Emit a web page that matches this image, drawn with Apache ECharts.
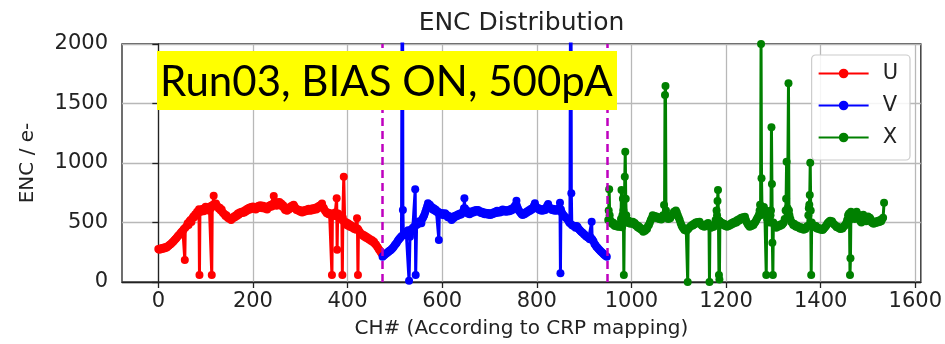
<!DOCTYPE html>
<html>
<head>
<meta charset="utf-8">
<script src="https://cdn.jsdelivr.net/npm/echarts@6/dist/echarts.min.js"></script>
<style>html,body{margin:0;padding:0;background:#fff;}#c{width:945px;height:344px;}</style>
</head>
<body>
<div id="c"></div>
<script>
// ---------- data (channel, ENC in e-) ----------
const uData = [
[0,278],[2,270],[4,282],[6,275],[8,285],[10,280],[12,290],[14,284],[16,295],[18,290],[20,300],[22,305],[24,312],[26,318],[28,325],[30,335],[32,340],[34,350],[36,360],[38,368],[40,378],[42,388],[44,395],[46,405],[48,415],[50,425],[52,432],[54,445],[56,185],[57,455],[60,470],[62,493],[64,480],[66,510],[68,520],[70,505],[72,535],[74,550],[76,545],[78,570],[80,560],[82,590],[84,580],[86,611],[87,59],[88,605],[90,590],[92,600],[94,615],[96,595],[98,620],[100,633],[102,610],[104,625],[106,600],[108,630],[110,615],[112,640],[113,59],[114,630],[116,650],[117,725],[118,655],[120,640],[122,660],[124,640],[126,630],[128,615],[130,625],[132,600],[134,610],[136,585],[138,575],[140,570],[142,555],[144,560],[146,545],[148,535],[150,540],[152,527],[154,520],[156,540],[158,535],[160,550],[162,545],[164,560],[166,555],[168,575],[170,565],[172,585],[174,577],[176,590],[178,580],[180,595],[182,585],[184,605],[186,595],[188,615],[190,605],[192,625],[194,610],[196,630],[198,620],[200,635],[202,615],[204,628],[206,610],[208,630],[210,620],[212,640],[214,625],[216,645],[218,630],[220,620],[222,640],[224,625],[226,615],[228,630],[230,610],[232,625],[234,640],[236,630],[238,650],[240,635],[242,655],[244,723],[246,650],[248,665],[250,640],[252,670],[254,655],[256,672],[258,650],[260,660],[262,635],[264,645],[266,620],[268,605],[270,615],[272,598],[274,620],[276,610],[278,630],[280,620],[282,640],[284,625],[286,650],[288,635],[290,620],[292,605],[294,612],[296,598],[298,605],[300,590],[302,600],[304,585],[306,598],[308,590],[310,605],[312,595],[314,610],[316,600],[318,615],[320,598],[322,610],[324,600],[326,620],[328,605],[330,615],[332,625],[334,610],[336,630],[338,620],[340,640],[342,628],[344,650],[346,660],[348,630],[350,620],[352,600],[354,590],[356,577],[358,585],[360,570],[362,580],[364,565],[366,572],[367,59],[368,560],[370,575],[372,555],[374,585],[376,570],[377,703],[378,270],[379,550],[380,575],[382,545],[384,560],[386,530],[388,520],[389,59],[390,540],[392,885],[394,493],[396,505],[398,480],[400,495],[402,470],[404,485],[406,462],[408,475],[410,455],[412,465],[414,445],[416,455],[418,440],[420,535],[421,450],[422,59],[423,440],[426,420],[428,405],[430,395],[432,400],[434,385],[436,390],[438,375],[440,380],[442,365],[444,370],[446,355],[448,360],[450,345],[452,350],[454,335],[456,338],[458,320],[460,315],[462,300],[464,290],[466,275],[468,265],[470,252],[472,240]
];
const vData = [
[474,212],[476,220],[478,227],[480,235],[482,240],[484,248],[486,252],[488,260],[490,265],[492,272],[494,280],[496,288],[498,298],[500,310],[502,320],[504,330],[506,345],[508,355],[510,365],[512,375],[514,385],[516,3500],[517,605],[518,400],[520,410],[522,395],[524,420],[526,425],[528,435],[530,10],[532,381],[534,440],[536,420],[538,455],[540,450],[542,470],[543,779],[544,59],[546,480],[548,500],[550,490],[552,510],[554,495],[556,493],[558,530],[560,545],[562,560],[564,585],[566,610],[568,635],[570,661],[572,640],[574,650],[576,625],[578,630],[580,610],[582,619],[584,600],[586,610],[588,590],[590,595],[592,580],[593,353],[594,585],[596,570],[598,580],[600,565],[602,575],[604,560],[606,577],[608,570],[610,560],[612,545],[614,555],[616,540],[618,535],[620,521],[622,545],[624,535],[626,555],[628,548],[630,560],[632,555],[634,570],[636,562],[638,575],[640,568],[642,580],[644,590],[646,620],[647,703],[648,620],[650,590],[652,600],[654,575],[656,585],[658,570],[660,590],[662,580],[664,595],[666,585],[668,600],[670,590],[672,605],[674,595],[676,605],[678,590],[680,595],[682,580],[684,590],[686,575],[688,585],[690,570],[692,582],[694,570],[696,580],[698,565],[700,578],[702,563],[704,575],[706,570],[708,585],[710,575],[712,590],[714,580],[716,598],[718,585],[720,595],[722,585],[724,600],[726,590],[728,610],[730,598],[732,605],[734,590],[736,600],[738,592],[740,605],[742,595],[744,612],[746,600],[748,618],[750,610],[752,630],[754,640],[756,650],[757,683],[758,640],[760,620],[762,600],[764,590],[766,580],[768,570],[770,563],[772,575],[774,570],[776,585],[778,580],[780,595],[782,590],[784,605],[786,598],[788,615],[790,610],[792,625],[794,640],[796,661],[798,635],[800,625],[802,615],[804,620],[806,605],[808,612],[810,598],[812,608],[814,600],[816,615],[818,605],[820,625],[822,640],[824,655],[826,630],[828,620],[830,615],[832,605],[834,615],[836,600],[838,612],[840,598],[842,610],[844,600],[846,615],[848,625],[849,667],[850,73],[851,610],[852,590],[854,575],[856,563],[858,555],[860,545],[862,540],[864,530],[866,520],[868,505],[870,493],[872,3500],[873,745],[874,480],[876,475],[878,470],[880,470],[882,455],[884,470],[886,465],[888,448],[890,440],[892,430],[894,422],[896,415],[898,410],[900,400],[902,395],[904,385],[906,380],[908,375],[910,370],[912,360],[914,375],[916,507],[917,360],[918,350],[920,340],[922,320],[924,310],[926,297],[928,290],[930,280],[932,272],[934,262],[936,255],[938,248],[940,240],[942,232],[944,225],[946,218],[948,213]
];
const xData = [
[951,521],[952,600],[953,779],[954,560],[955,520],[957,505],[959,490],[961,500],[963,480],[965,470],[967,485],[969,470],[971,465],[973,478],[975,465],[977,480],[978,530],[979,773],[980,460],[981,560],[982,700],[983,600],[984,59],[985,520],[986,885],[987,1095],[988,700],[989,560],[990,500],[992,520],[994,495],[996,510],[998,490],[1000,505],[1003,507],[1005,485],[1007,495],[1009,475],[1011,480],[1013,460],[1015,470],[1017,450],[1019,455],[1021,440],[1023,445],[1025,423],[1027,440],[1029,430],[1031,450],[1033,445],[1035,470],[1037,480],[1039,500],[1041,520],[1043,535],[1045,560],[1047,545],[1049,555],[1051,540],[1053,550],[1055,535],[1057,545],[1059,530],[1061,540],[1063,525],[1065,535],[1067,560],[1069,647],[1070,560],[1071,1571],[1072,1647],[1073,600],[1074,560],[1076,540],[1078,530],[1080,545],[1082,535],[1084,555],[1086,560],[1088,575],[1090,590],[1092,580],[1094,600],[1096,585],[1098,560],[1100,540],[1102,520],[1104,495],[1106,475],[1108,460],[1110,450],[1112,437],[1114,445],[1116,430],[1118,440],[1119,0],[1120,445],[1122,455],[1124,465],[1126,470],[1128,480],[1130,475],[1132,490],[1134,485],[1136,500],[1138,495],[1140,505],[1142,498],[1144,507],[1146,490],[1148,480],[1150,470],[1152,478],[1154,465],[1156,470],[1158,485],[1160,480],[1162,495],[1164,480],[1165,0],[1166,470],[1168,455],[1170,460],[1172,470],[1174,465],[1176,480],[1178,520],[1180,600],[1181,560],[1182,680],[1183,773],[1184,520],[1185,59],[1186,20],[1187,510],[1188,500],[1190,485],[1192,495],[1194,480],[1196,490],[1198,470],[1200,475],[1202,465],[1204,480],[1206,470],[1208,485],[1210,478],[1212,495],[1214,488],[1216,505],[1218,495],[1220,510],[1222,500],[1224,520],[1226,512],[1228,530],[1230,520],[1232,540],[1234,530],[1236,545],[1238,535],[1240,549],[1242,520],[1244,500],[1246,485],[1248,475],[1250,465],[1252,475],[1254,470],[1256,485],[1258,480],[1260,495],[1262,505],[1264,520],[1266,535],[1268,550],[1270,570],[1271,600],[1272,650],[1273,560],[1274,2000],[1275,871],[1276,620],[1278,600],[1280,630],[1282,590],[1284,600],[1285,59],[1286,580],[1287,530],[1288,560],[1290,520],[1292,500],[1294,560],[1295,600],[1296,1300],[1297,823],[1298,330],[1299,59],[1300,500],[1302,480],[1304,470],[1306,455],[1308,470],[1310,465],[1312,480],[1314,470],[1316,485],[1318,478],[1320,490],[1322,500],[1324,530],[1326,600],[1327,700],[1328,1011],[1330,620],[1332,1670],[1333,600],[1334,560],[1336,530],[1338,505],[1340,495],[1342,480],[1344,490],[1346,470],[1348,465],[1350,475],[1352,460],[1354,465],[1356,450],[1358,460],[1360,445],[1362,455],[1364,440],[1366,450],[1368,445],[1370,460],[1372,470],[1374,560],[1375,620],[1376,650],[1377,731],[1378,1003],[1379,600],[1380,59],[1381,500],[1382,480],[1384,470],[1386,475],[1388,460],[1390,470],[1392,450],[1394,455],[1396,445],[1398,450],[1400,440],[1402,448],[1404,437],[1406,445],[1408,455],[1410,465],[1412,475],[1414,490],[1416,500],[1418,507],[1420,515],[1422,500],[1424,510],[1426,495],[1428,485],[1430,478],[1432,470],[1434,460],[1436,465],[1438,455],[1440,450],[1442,445],[1444,455],[1446,450],[1448,465],[1450,470],[1452,480],[1454,495],[1456,520],[1458,560],[1460,575],[1461,520],[1462,59],[1463,199],[1464,591],[1466,560],[1468,575],[1470,545],[1472,530],[1474,560],[1476,590],[1478,570],[1480,560],[1482,530],[1484,510],[1486,500],[1488,530],[1490,565],[1492,540],[1494,525],[1496,510],[1498,530],[1500,550],[1502,520],[1504,540],[1506,525],[1508,500],[1510,495],[1512,490],[1514,505],[1516,495],[1518,510],[1520,500],[1522,515],[1524,505],[1526,520],[1528,510],[1530,530],[1532,540],[1534,667]
];
const planeBoundaries = [474, 949];
const xTicks = [0, 200, 400, 600, 800, 1000, 1200, 1400, 1600];
const yTicks = [0, 500, 1000, 1500, 2000];
const xRange = [-76.75, 1611.75];
const seriesNames = ['U', 'V', 'X'];
const titleText = 'ENC Distribution';
const xName = 'CH# (According to CRP mapping)';
const yName = 'ENC / e-';
const noteText = 'Run03, BIAS ON, 500pA';

// ---------- chart ----------
const FONT = 'DejaVu Sans';
const TXT = '#222';
const colors = ['#ff0000', '#0000ff', '#008000'];
const chart = echarts.init(document.getElementById('c'), null, {renderer: 'canvas'});

function mkSeries(name, data, color, extra) {
  return Object.assign({
    name: name, type: 'line', data: data,
    symbol: 'circle', symbolSize: 8, showSymbol: true, showAllSymbol: true,
    lineStyle: {color: color, width: 3},
    itemStyle: {color: color},
    emphasis: {disabled: true},
    clip: true, z: 3
  }, extra || {});
}

chart.setOption({
  animation: false,
  backgroundColor: '#fff',
  grid: {left: 122, right: 24, top: 44, bottom: 62, show: true, borderColor: '#222', borderWidth: 1.3, containLabel: false},
  xAxis: {
    type: 'value', min: xRange[0], max: xRange[1],
    name: xName, nameLocation: 'middle', nameGap: 37,
    nameTextStyle: {fontFamily: FONT, fontSize: 20, color: TXT},
    axisLine: {show: true, lineStyle: {color: '#222', width: 1.3}},
    axisTick: {show: true, length: 6, lineStyle: {color: '#222', width: 1.3}, customValues: xTicks},
    axisLabel: {fontFamily: FONT, fontSize: 21, color: TXT, margin: 9, customValues: xTicks, formatter: v => String(v)},
    splitLine: {show: true, lineStyle: {color: '#b8b8b8', width: 1.3}}
  },
  yAxis: {
    type: 'value', min: yTicks[0], max: yTicks[yTicks.length - 1], interval: 500,
    name: yName, nameLocation: 'middle', nameGap: 84, nameRotate: 90,
    nameTextStyle: {fontFamily: FONT, fontSize: 20, color: TXT},
    axisLine: {show: true, lineStyle: {color: '#222', width: 1.3}},
    axisTick: {show: true, length: 6, lineStyle: {color: '#222', width: 1.3}},
    axisLabel: {fontFamily: FONT, fontSize: 21, color: TXT, margin: 14, formatter: v => String(v)},
    splitLine: {show: true, lineStyle: {color: '#b8b8b8', width: 1.3}}
  },
  legend: {
    orient: 'vertical', right: 35, top: 55, data: seriesNames,
    itemWidth: 50, itemHeight: 12, itemGap: 11,
    padding: [8, 12, 12, 6],
    borderColor: '#cccccc', borderWidth: 1.2, borderRadius: 4,
    backgroundColor: 'rgba(255,255,255,0.85)',
    textStyle: {fontFamily: FONT, fontSize: 21, color: TXT, padding: [0, 0, 0, 9]}
  },
  series: [
    mkSeries(seriesNames[0], uData, colors[0]),
    mkSeries(seriesNames[1], vData, colors[1]),
    mkSeries(seriesNames[2], xData, colors[2], {
      markLine: {
        silent: true, symbol: 'none', label: {show: false},
        lineStyle: {color: '#bf00bf', type: [8, 5], width: 2.5},
        data: planeBoundaries.map(v => ({xAxis: v}))
      }
    })
  ],
  graphic: [
    {type: 'text', x: 521.5, y: 23, z: 10,
     style: {text: titleText, fontFamily: FONT, fontSize: 25, fill: TXT, align: 'center', verticalAlign: 'middle'}},
    {type: 'rect', shape: {x: 157, y: 51, width: 460, height: 59}, z: 20, style: {fill: '#ffff00'}},
    {type: 'text', x: 160, y: 82, z: 21,
     style: {text: noteText, fontFamily: 'Lato', fontSize: 42, fill: '#000', align: 'left', verticalAlign: 'middle'}}
  ]
});
</script>
</body>
</html>
